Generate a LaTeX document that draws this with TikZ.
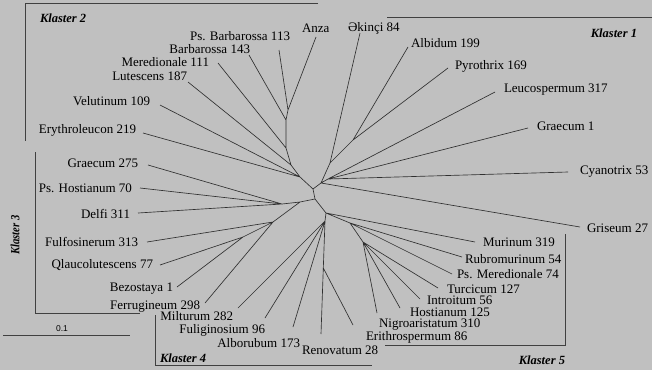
\documentclass[tikz,border=0pt]{standalone}
\usepackage{fontspec}
\setmainfont{Liberation Serif}
\setsansfont{Liberation Sans}
\begin{document}
\begin{tikzpicture}[x=1pt,y=-1pt,
  lbl/.style={inner sep=0pt,outer sep=0pt,font=\fontsize{13}{13}\selectfont},
  lbll/.style={lbl,anchor=base east},
  lblr/.style={lbl,anchor=base west},
  klab/.style={inner sep=0pt,outer sep=0pt,font=\fontsize{12.5}{13}\selectfont\bfseries\itshape},
  branch/.style={draw=treecol,line width=0.65pt},
  boxline/.style={draw=boxcol,line width=0.8pt}]
\definecolor{bgcol}{HTML}{C0C0C0}
\definecolor{treecol}{HTML}{303030}
\definecolor{boxcol}{HTML}{404040}
\fill[bgcol] (0,0) rectangle (652,370);
\useasboundingbox (0,0) rectangle (652,370);

% internal nodes
\coordinate (j1) at (288,110);
\coordinate (j2) at (286,120);
\coordinate (j3) at (286,148);
\coordinate (j4) at (291,165);
\coordinate (j5) at (300,177);
\coordinate (A) at (313,189);
\coordinate (K1a) at (321,183);
\coordinate (P2) at (330,163);
\coordinate (P1) at (353,140);
\coordinate (K1b) at (328,179);
\coordinate (B) at (315,199);
\coordinate (C3) at (300,202);
\coordinate (J3a) at (282,204);
\coordinate (J3b) at (273,222);
\coordinate (J3c) at (243,237);
\coordinate (D) at (326,213);
\coordinate (E) at (350,223);
\coordinate (F) at (363,242);
\coordinate (H) at (325,221);
\coordinate (G) at (323.3,268);

% leaf tips
\coordinate (anzaT) at (316,37);
\coordinate (pbT) at (279,50);
\coordinate (bT) at (249,55);
\coordinate (mT) at (218,63);
\coordinate (lutT) at (188,82);
\coordinate (velT) at (160,105);
\coordinate (eryT) at (143,133);
\coordinate (ekiT) at (360,33);
\coordinate (albT) at (408,47);
\coordinate (pyrT) at (448,68);
\coordinate (leuT) at (495,92);
\coordinate (grT) at (528,128);
\coordinate (cyaT) at (568,172);
\coordinate (griT) at (580,227);
\coordinate (gtT) at (148,165);
\coordinate (phT) at (140,188);
\coordinate (delT) at (138,213);
\coordinate (fulT) at (147,242);
\coordinate (qlaT) at (160,265);
\coordinate (bezT) at (177,287);
\coordinate (ferT) at (205,303);
\coordinate (milT) at (238,308);
\coordinate (fugT) at (265,318);
\coordinate (abT) at (293,327);
\coordinate (renT) at (321,334);
\coordinate (murT) at (475,242);
\coordinate (rubT) at (462,257);
\coordinate (pmT) at (452,274);
\coordinate (turT) at (438,288);
\coordinate (intT) at (420,299);
\coordinate (hosT) at (400,308);
\coordinate (nigT) at (377,313);
\coordinate (eriT) at (353,325);

% branches
\path[branch] (anzaT) -- (j1) (pbT) -- (j1) -- (j2) (bT) -- (j2) -- (j3)
  (mT) -- (j3) -- (j4) (lutT) -- (j4) -- (j5) (velT) -- (j5) (eryT) -- (j5) -- (A);
\path[branch] (A) -- (K1a) -- (P2) (ekiT) -- (P2) -- (P1) (albT) -- (P1) (pyrT) -- (P1)
  (K1a) -- (K1b) (leuT) -- (K1b) (grT) -- (K1b) (cyaT) -- (K1b) (griT) -- (K1a);
\path[branch] (A) -- (B) -- (C3) -- (J3a) (gtT) -- (J3a) (phT) -- (J3a) (delT) -- (J3a)
  (C3) -- (J3b) (fulT) -- (J3b) (ferT) -- (J3b) -- (J3c) (qlaT) -- (J3c) (bezT) -- (J3c);
\path[branch] (B) -- (D) -- (E) (murT) -- (D) (rubT) -- (E) (pmT) -- (E) -- (F)
  (turT) -- (F) (intT) -- (F) (hosT) -- (F) (nigT) -- (F)
  (D) -- (H) (milT) -- (H) (fugT) -- (H) (abT) -- (H) (H) -- (G) -- (renT) (G) -- (eriT);

% labels
\node[lblr] (anza) at (302,32.5) {Anza};
\node[lbll] (pb) at (290,40.5) {Ps. Barbarossa 113};
\node[lbll] (b) at (250,53.5) {Barbarossa 143};
\node[lbll] (m) at (209,66.5) {Meredionale 111};
\node[lbll] (lut) at (187,80.5) {Lutescens 187};
\node[lbll] (vel) at (150,105.5) {Velutinum 109};
\node[lbll] (ery) at (136,133.5) {Erythroleucon 219};
\node[lbll] (gt) at (138,167.5) {Graecum 275};
\node[lbll] (ph) at (132,192.5) {Ps. Hostianum 70};
\node[lbll] (del) at (130,218.5) {Delfi 311};
\node[lbll] (ful) at (138,246.5) {Fulfosinerum 313};
\node[lbll] (qla) at (153,268.5) {Qlaucolutescens 77};
\node[lbll] (bez) at (173,291.5) {Bezostaya 1};
\node[lbll] (fer) at (200,309.5) {Ferrugineum 298};
\node[lbll] (mil) at (233,320.5) {Milturum 282};
\node[lbll] (fug) at (265,333.5) {Fuliginosium 96};
\node[lbll] (ab) at (300,347.5) {Alborubum 173};
\node[lblr] (ren) at (302,354.5) {Renovatum 28};
\node[lblr] (eki) at (348,31.5) {Əkinçi 84};
\node[lblr] (alb) at (411,47.5) {Albidum 199};
\node[lblr] (pyr) at (455,69.5) {Pyrothrix 169};
\node[lblr] (leu) at (504,92.5) {Leucospermum 317};
\node[lblr] (gr) at (537,130.5) {Graecum 1};
\node[lblr] (cya) at (580,174.5) {Cyanotrix 53};
\node[lblr] (gri) at (587,232.5) {Griseum 27};
\node[lblr] (mur) at (483,246.5) {Murinum 319};
\node[lblr] (rub) at (465,263.5) {Rubromurinum 54};
\node[lblr] (pm) at (457,278.5) {Ps. Meredionale 74};
\node[lblr] (tur) at (447,293) {Turcicum 127};
\node[lblr] (int) at (427,304.5) {Introitum 56};
\node[lblr] (hos) at (410,316) {Hostianum 125};
\node[lblr] (nig) at (379,327) {Nigroaristatum 310};
\node[lblr] (eri) at (366,340) {Erithrospermum 86};

% cluster frames
\coordinate (k2a) at (318,3); \coordinate (k2b) at (25,3); \coordinate (k2c) at (25,141);
\path[boxline] (k2a) -- (k2b) -- (k2c);
\coordinate (k1a) at (387,17); \coordinate (k1b) at (652,17);
\path[boxline] (k1a) -- (k1b);
\coordinate (k3a) at (35,152); \coordinate (k3b) at (35,313); \coordinate (k3c) at (140,313);
\path[boxline] (k3a) -- (k3b) -- (k3c);
\coordinate (k4a) at (155,315); \coordinate (k4b) at (155,365); \coordinate (k4c) at (372,365);
\path[boxline] (k4a) -- (k4b) -- (k4c);
\coordinate (k5a) at (565,234); \coordinate (k5b) at (565,345); \coordinate (k5c) at (385,345);
\path[boxline] (k5a) -- (k5b) -- (k5c);

\node[klab,anchor=base west] (kl2) at (40,22.5) {Klaster 2};
\node[klab,anchor=base east] (kl1) at (637,37.5) {Klaster 1};
\node[klab,anchor=base west] (kl4) at (160,362) {Klaster 4};
\node[klab,anchor=base east] (kl5) at (565,364) {Klaster 5};
\node[klab,rotate=90,xscale=0.85] (kl3) at (15,235) {Klaster 3};

% scale bar
\coordinate (sbA) at (3,335); \coordinate (sbB) at (130,335);
\path[boxline,line width=0.7pt] (sbA) -- (sbB);
\node[inner sep=0pt,font=\sffamily\fontsize{8.5}{9}\selectfont] (sb) at (62,329) {0.1};
\end{tikzpicture}
\end{document}
